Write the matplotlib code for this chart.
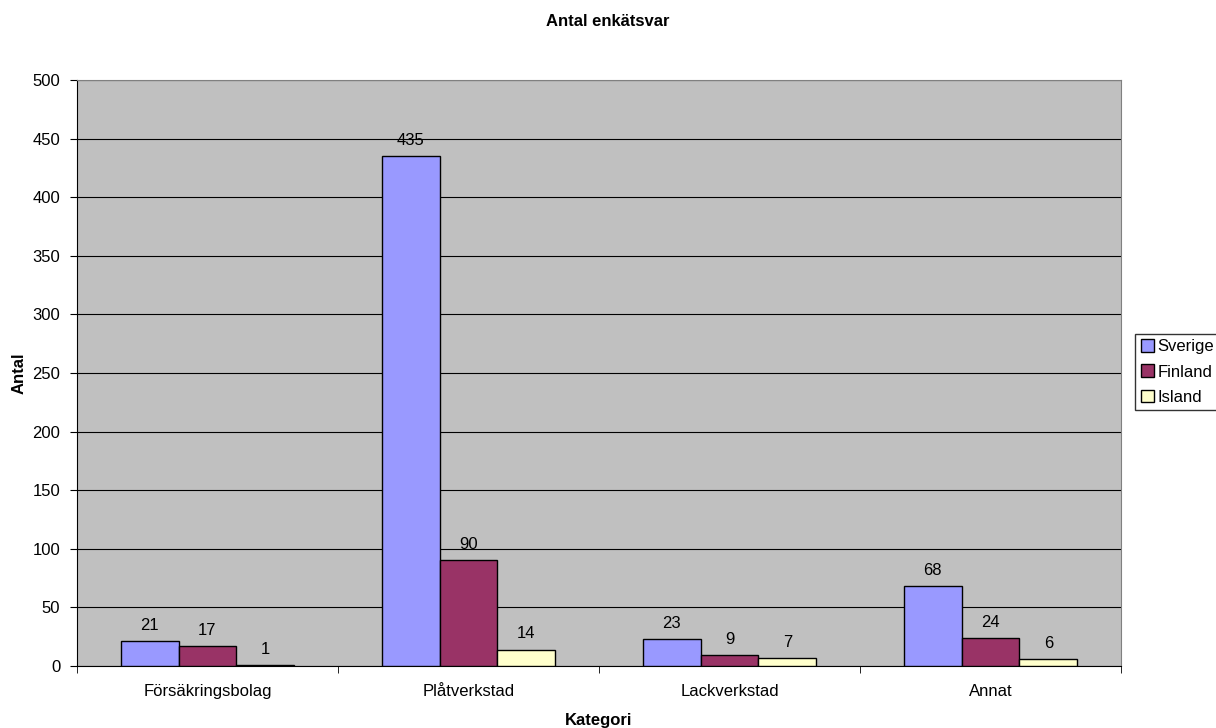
import numpy as np
import matplotlib.pyplot as plt

plt.rcParams['font.family'] = ['Liberation Sans', 'DejaVu Sans']

kategorier = ['Försäkringsbolag', 'Plåtverkstad', 'Lackverkstad', 'Annat']
sverige = [21, 435, 23, 68]
finland = [17, 90, 9, 24]
island = [1, 14, 7, 6]

serier = ['Sverige', 'Finland', 'Island']
farger = ['#9999FF', '#993366', '#FFFFCC']

fig = plt.figure(figsize=(12.16, 7.28), dpi=100)
ax = fig.add_axes([0.0633, 0.0852, 0.8586, 0.805])
ax.set_facecolor('#C0C0C0')

fs = 12
x = np.arange(len(kategorier))
w = 0.222
for i, (vals, namn, farg) in enumerate(zip([sverige, finland, island], serier, farger)):
    pos = x + (i - 1) * w
    ax.bar(pos, vals, w, color=farg, edgecolor='black', linewidth=1, label=namn, zorder=3)
    for p, v in zip(pos, vals):
        ax.text(p, v + 7, str(v), ha='center', va='bottom', fontsize=fs)

ax.set_xlim(-0.5, len(kategorier) - 0.5)
ax.set_ylim(0, 500)
ax.set_yticks(np.arange(0, 501, 50))
ax.yaxis.grid(True, color='black', linewidth=0.8, zorder=0)
ax.set_axisbelow(True)

ax.set_xticks(x)
ax.set_xticklabels(kategorier, fontsize=fs)
ax.set_xticks(np.arange(-0.5, len(kategorier)), minor=True)
ax.tick_params(axis='x', which='major', length=0, pad=13)
ax.tick_params(axis='x', which='minor', length=5, direction='out')
ax.tick_params(axis='y', labelsize=fs, length=5, direction='out', pad=7)

for s in ['top', 'right']:
    ax.spines[s].set_color('#808080')
for s in ['left', 'bottom']:
    ax.spines[s].set_color('black')

ax.set_xlabel('Kategori', fontsize=fs, fontweight='bold', labelpad=10)
ax.set_ylabel('Antal', fontsize=fs, fontweight='bold', labelpad=4)
fig.text(0.5, 0.971, 'Antal enkätsvar', ha='center', va='center', fontsize=fs, fontweight='bold')

leg = fig.legend(loc='center left', bbox_to_anchor=(0.9334, 0.489), fontsize=fs,
                 frameon=True, fancybox=False, edgecolor='black', handlelength=0.78,
                 handleheight=0.78, handletextpad=0.25, borderpad=0.33, labelspacing=0.6,
                 borderaxespad=0)
leg.get_frame().set_linewidth(1)

fig.savefig('out.png', dpi=100)
